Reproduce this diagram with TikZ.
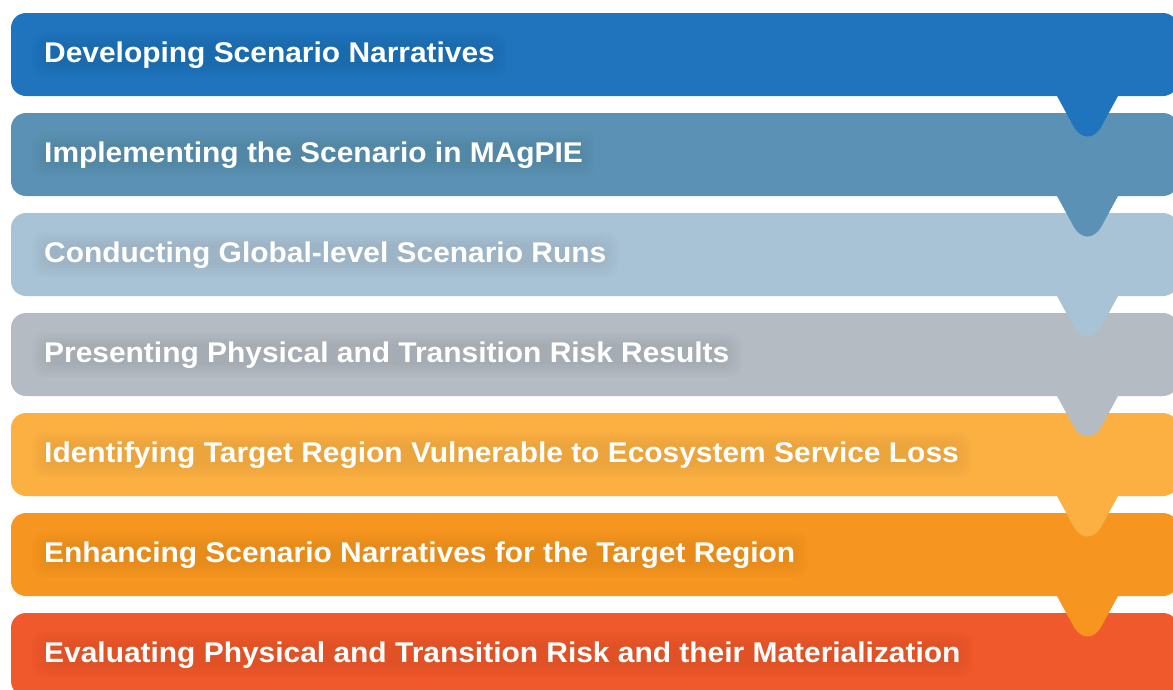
\documentclass[tikz,border=0pt]{standalone}
\usepackage{fontspec}
\usetikzlibrary{calc}
\setmainfont{Liberation Sans}
\newfontfamily\labelfont{Liberation Sans}[FakeStretch=1.05]
\definecolor{c1}{HTML}{1F74BD}
\definecolor{c2}{HTML}{5B91B4}
\definecolor{c3}{HTML}{A7C3D5}
\definecolor{c4}{HTML}{B4BBC2}
\definecolor{c5}{HTML}{FBB041}
\definecolor{c6}{HTML}{F6951F}
\definecolor{c7}{HTML}{EF592B}
\pgfdeclarelayer{barlayer}
\pgfdeclarelayer{glowlayer}
\pgfsetlayers{barlayer,glowlayer,main}
\begin{document}
\begin{tikzpicture}[x=1pt,y=-1pt,
  steplabel/.style={anchor=base west, text=white, inner sep=0pt,
    font=\labelfont\bfseries\fontsize{28.5}{32}\selectfont}]
\useasboundingbox (0,0) rectangle (1173,689);
\clip (0,0) rectangle (1173,689);
% bars are drawn bottom-up so each pointer overlaps the bar below it
\foreach \i/\txt in {
  7/{Evaluating Physical and Transition Risk and their Materialization},
  6/{Enhancing Scenario Narratives for the Target Region},
  5/{Identifying Target Region Vulnerable to Ecosystem Service Loss},
  4/{Presenting Physical and Transition Risk Results},
  3/{Conducting Global-level Scenario Runs},
  2/{Implementing the Scenario in MAgPIE},
  1/{Developing Scenario Narratives}}{
  \pgfmathsetmacro{\T}{13+100*(\i-1)}
  \pgfmathsetmacro{\B}{\T+83}
  \begin{pgfonlayer}{barlayer}
    \fill[c\i, rounded corners=15pt] (11,\T) rectangle (1178,\B);
    \fill[c\i] (1057,\B-3) -- (1057,\B) [rounded corners=30pt] -- (1087.5,\B+56)
      [sharp corners] -- (1118,\B) -- (1118,\B-3) -- cycle;
  \end{pgfonlayer}
  \node[steplabel] (s\i) at (44,\T+49) {\txt};
  % soft shadow behind the label
  \begin{pgfonlayer}{glowlayer}
    \foreach \d in {0,3,6,9,12}{
      \fill[black, opacity=0.011, rounded corners=12pt]
        ($(s\i.south west)+(-\d,\d-3)$) rectangle ($(s\i.north east)+(\d,3-\d)$);
    }
  \end{pgfonlayer}
}
\end{tikzpicture}
\end{document}
